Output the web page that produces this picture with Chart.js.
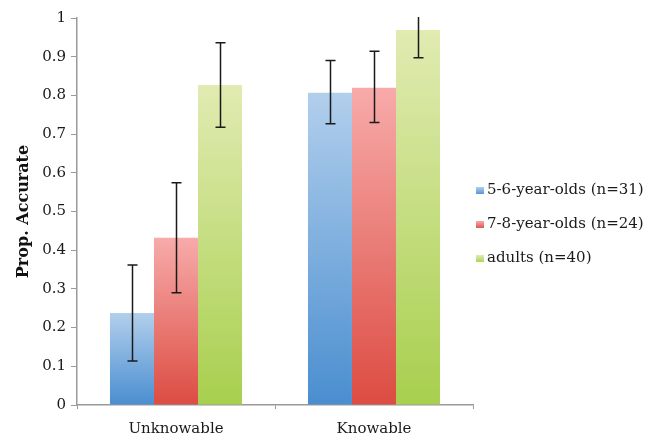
<!DOCTYPE html>
<html>
<head>
  <meta charset="utf-8">
  <title>Prop. Accurate</title>
  <script src="https://cdn.jsdelivr.net/npm/chart.js"></script>
  <style>
    html, body { margin: 0; padding: 0; background: #ffffff; }
    #wrap { width: 656px; height: 437px; position: relative; }
  </style>
</head>
<body>
  <div id="wrap"><canvas id="myChart"></canvas></div>

<script>
  // data
  var categories = ['Unknowable', 'Knowable'];
  var seriesNames = ['5-6-year-olds (n=31)', '7-8-year-olds (n=24)', 'adults (n=40)'];
  var kids56 = [0.238, 0.807];
  var kids78 = [0.432, 0.820];
  var adults = [0.827, 0.969];
  var kids56Err = [[0.114, 0.362], [0.727, 0.890]];
  var kids78Err = [[0.290, 0.574], [0.730, 0.914]];
  var adultsErr = [[0.718, 0.936], [0.897, 1.041]];
  var yTicks = [0, 0.1, 0.2, 0.3, 0.4, 0.5, 0.6, 0.7, 0.8, 0.9, 1];

  // top / bottom colours of each bar gradient
  var colours = [
    ['#b2cfec', '#4a8ed0'],
    ['#f7abaa', '#dc4c42'],
    ['#e1ebb2', '#a8cf4e']
  ];

  function barGradient(idx) {
    return function (context) {
      var chart = context.chart;
      var ca = chart.chartArea;
      if (!ca || context.raw == null) return colours[idx][1];
      var y = chart.scales.y;
      var top = y.getPixelForValue(context.raw);
      var base = y.getPixelForValue(0);
      var g = chart.ctx.createLinearGradient(0, top, 0, base);
      g.addColorStop(0, colours[idx][0]);
      g.addColorStop(1, colours[idx][1]);
      return g;
    };
  }

  var errors = [kids56Err, kids78Err, adultsErr];
  var serif = '"DejaVu Serif", serif';

  // error bars, clipped to the plot like the original
  var errorBars = {
    id: 'errorBars',
    afterDatasetsDraw: function (chart) {
      var ctx = chart.ctx;
      var ca = chart.chartArea;
      var y = chart.scales.y;
      ctx.save();
      ctx.beginPath();
      ctx.rect(ca.left, ca.top - 1, ca.right - ca.left, ca.bottom - ca.top + 1);
      ctx.clip();
      ctx.strokeStyle = '#1a1a1a';
      ctx.lineWidth = 1.5;
      chart.data.datasets.forEach(function (ds, i) {
        var meta = chart.getDatasetMeta(i);
        meta.data.forEach(function (bar, j) {
          var lo = y.getPixelForValue(errors[i][j][0]);
          var hi = y.getPixelForValue(errors[i][j][1]);
          var x = Math.round(bar.x) + 0.5;
          ctx.beginPath();
          ctx.moveTo(x, lo); ctx.lineTo(x, hi);
          ctx.moveTo(x - 5, lo); ctx.lineTo(x + 5, lo);
          ctx.moveTo(x - 5, hi); ctx.lineTo(x + 5, hi);
          ctx.stroke();
        });
      });
      ctx.restore();
    }
  };

  // legend to the right of the plot, stacked vertically
  var sideLegend = {
    id: 'sideLegend',
    afterDraw: function (chart) {
      var ctx = chart.ctx;
      var ca = chart.chartArea;
      var x = ca.right + 3;
      var rows = [190, 224, 258];
      ctx.save();
      ctx.font = '15px ' + serif;
      ctx.textBaseline = 'middle';
      ctx.textAlign = 'left';
      chart.data.datasets.forEach(function (ds, i) {
        var cy = rows[i];
        var g = ctx.createLinearGradient(0, cy - 3, 0, cy + 5);
        g.addColorStop(0, colours[i][0]);
        g.addColorStop(1, colours[i][1]);
        ctx.fillStyle = g;
        ctx.fillRect(x, cy - 3, 8, 7);
        ctx.fillStyle = '#1a1a1a';
        ctx.fillText(ds.label, x + 11, cy);
      });
      ctx.restore();
    }
  };

  var ctx = document.getElementById('myChart').getContext('2d');
  var myChart = new Chart(ctx, {
    type: 'bar',
    data: {
      labels: categories,
      datasets: [
        { label: seriesNames[0], data: kids56, backgroundColor: barGradient(0) },
        { label: seriesNames[1], data: kids78, backgroundColor: barGradient(1) },
        { label: seriesNames[2], data: adults, backgroundColor: barGradient(2) }
      ]
    },
    options: {
      responsive: true,
      maintainAspectRatio: false,
      animation: false,
      layout: { padding: { top: 18, right: 183, bottom: 0, left: 0 } },
      datasets: { bar: { categoryPercentage: 0.667, barPercentage: 1.0 } },
      scales: {
        x: {
          grid: { display: true, drawOnChartArea: false, offset: true, tickLength: 4, color: '#9a9a9a' },
          border: { color: '#9a9a9a', width: 1.5 },
          ticks: { color: '#1a1a1a', font: { family: serif, size: 15 }, padding: 11 },
          afterFit: function (s) { s.height = 32; }
        },
        y: {
          min: 0,
          max: 1,
          afterBuildTicks: function (s) { s.ticks = yTicks.map(function (v) { return { value: v }; }); },
          grid: { display: true, drawOnChartArea: false, tickLength: 6, color: '#9a9a9a' },
          border: { color: '#9a9a9a', width: 1.5 },
          ticks: {
            color: '#1a1a1a',
            font: { family: serif, size: 15 },
            padding: 5,
            callback: function (v) { return String(Math.round(v * 10) / 10); }
          },
          title: { display: true, text: 'Prop. Accurate', color: '#111', font: { family: serif, size: 16, weight: 'bold' }, padding: { top: 14, bottom: 4 } },
          afterFit: function (s) { s.width = 77; }
        }
      },
      plugins: {
        legend: { display: false },
        tooltip: { enabled: false }
      }
    },
    plugins: [errorBars, sideLegend]
  });
</script>
</body>
</html>
